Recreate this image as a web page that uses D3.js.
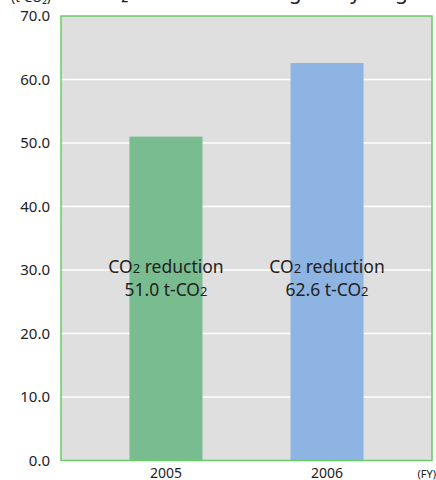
<!DOCTYPE html>
<html>
<head>
<meta charset="utf-8">
<script src="https://cdn.jsdelivr.net/npm/d3@7"></script>
<style>
  html, body { margin: 0; padding: 0; background: #ffffff; }
  svg { display: block; }
</style>
</head>
<body>
<div id="chart"></div>
<script>
// Fiscal years and CO2 reduction (t-CO2)
const years = ["2005", "2006"];
const reductions = [51.0, 62.6];
const barColors = ["#78bc8f", "#8db4e2"];
const yTicks = [0, 10, 20, 30, 40, 50, 60, 70];
const titleText = "CO₂ reduction through recycling";
const unitLabel = "(t-CO₂)";
const xUnitLabel = "(FY)";

const width = 436, height = 480;
const plot = { left: 61, right: 432, top: 16, bottom: 460.5 };
const font = "'Noto Sans', 'DejaVu Sans', sans-serif";

const svg = d3.select("#chart").append("svg")
  .attr("width", width).attr("height", height);

const x = d3.scaleBand()
  .domain(years)
  .range([plot.left, plot.right])
  .paddingInner(0.5466)
  .paddingOuter(0.425);

const y = d3.scaleLinear()
  .domain([0, 70])
  .range([plot.bottom, plot.top]);

// Title (runs off the top edge)
svg.append("text")
  .attr("x", 92).attr("y", -1.5)
  .attr("text-anchor", "start")
  .attr("font-family", font).attr("font-size", 21)
  .attr("fill", "#222")
  .text(titleText);

// Plot background
svg.append("rect")
  .attr("x", plot.left).attr("y", plot.top)
  .attr("width", plot.right - plot.left)
  .attr("height", plot.bottom - plot.top)
  .attr("fill", "#dfdfdf");

// Horizontal gridlines
svg.append("g").selectAll("line")
  .data(yTicks.filter(d => d > 0 && d < 70))
  .join("line")
  .attr("x1", plot.left).attr("x2", plot.right)
  .attr("y1", d => y(d)).attr("y2", d => y(d))
  .attr("stroke", "#ffffff").attr("stroke-width", 1.5);

// Bars
svg.append("g").selectAll("rect")
  .data(years)
  .join("rect")
  .attr("x", d => x(d))
  .attr("width", x.bandwidth())
  .attr("y", (d, i) => y(reductions[i]))
  .attr("height", (d, i) => y(0) - y(reductions[i]))
  .attr("fill", (d, i) => barColors[i]);

// Plot frame
svg.append("rect")
  .attr("x", plot.left).attr("y", plot.top)
  .attr("width", plot.right - plot.left)
  .attr("height", plot.bottom - plot.top)
  .attr("fill", "none")
  .attr("stroke", "#6acb6a").attr("stroke-width", 1.5);

// Y axis
const yAxis = svg.append("g")
  .attr("transform", `translate(${plot.left},0)`)
  .call(d3.axisLeft(y).tickValues(yTicks).tickFormat(d3.format(".1f")).tickSize(0).tickPadding(11));
yAxis.select(".domain").remove();
yAxis.selectAll("text")
  .attr("font-family", font).attr("font-size", 15).attr("fill", "#222");

// X axis labels
const xAxis = svg.append("g")
  .attr("transform", `translate(0,${plot.bottom})`)
  .call(d3.axisBottom(x).tickSize(0).tickPadding(8));
xAxis.select(".domain").remove();
xAxis.selectAll("text")
  .attr("font-family", font).attr("font-size", 14).attr("fill", "#222");

// Unit labels
svg.append("text")
  .attr("x", 31).attr("y", 1.5)
  .attr("text-anchor", "middle")
  .attr("font-family", font).attr("font-size", 13).attr("fill", "#222")
  .text(unitLabel);
svg.append("text")
  .attr("x", 436).attr("y", 478)
  .attr("text-anchor", "end")
  .attr("font-family", font).attr("font-size", 11).attr("fill", "#222")
  .text(xUnitLabel);

// Value annotations on each bar
const notes = svg.append("g")
  .attr("font-family", font).attr("font-size", 17.5).attr("fill", "#222")
  .attr("text-anchor", "middle");
years.forEach((yr, i) => {
  const cx = x(yr) + x.bandwidth() / 2;
  const t1 = notes.append("text").attr("x", cx).attr("y", 273);
  t1.append("tspan").text("CO");
  t1.append("tspan").attr("font-size", 13).text("2");
  t1.append("tspan").text(" reduction");
  const t2 = notes.append("text").attr("x", cx).attr("y", 296);
  t2.append("tspan").text(d3.format(".1f")(reductions[i]) + " t-CO");
  t2.append("tspan").attr("font-size", 13).text("2");
});
</script>
</body>
</html>
